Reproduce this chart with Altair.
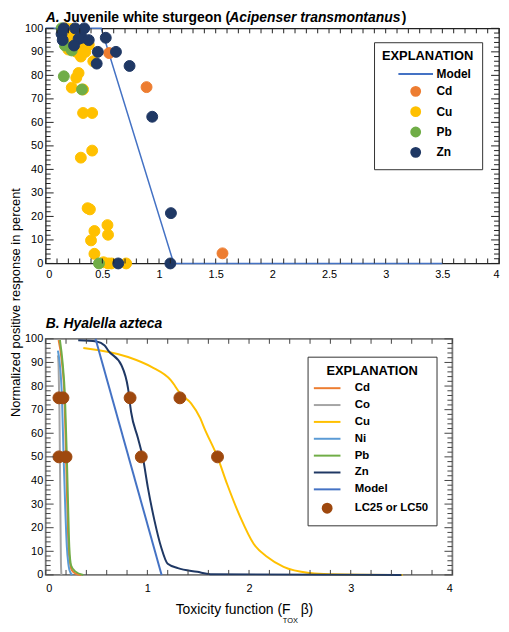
import altair as alt
import pandas as pd
import numpy as np

FONT = "Liberation Sans, Arial, sans-serif"

# ---------------- Panel A data (juvenile white sturgeon) ----------------
cd_x = [0.37, 0.56, 0.89, 1.56]
cd_y = [93, 89.5, 75, 4.3]
cu_x = [0.18, 0.23, 0.22, 0.30, 0.20, 0.27, 0.35, 0.33, 0.25, 0.38, 0.31, 0.28,
        0.42, 0.29, 0.27, 0.23, 0.33, 0.33, 0.41, 0.31, 0.41, 0.37, 0.39, 0.545,
        0.43, 0.55, 0.40, 0.43, 0.51, 0.55, 0.58, 0.71]
cu_y = [100, 99.7, 95.5, 97.6, 91, 90, 90, 92, 94, 93, 88, 96,
        86, 81, 79, 74.8, 74, 64, 64, 45, 48, 23.5, 23, 16.3,
        13.8, 12.2, 9.8, 4.1, 0.5, 0, 0, 0]
pb_x = [0.14, 0.17, 0.23, 0.16, 0.32, 0.47]
pb_y = [100, 92.7, 90.6, 79.6, 74, 0]
zn_x = [0.16, 0.26, 0.34, 0.14, 0.15, 0.32, 0.29, 0.38, 0.25, 0.53, 0.46, 0.62,
        0.45, 0.74, 0.94, 1.105, 0.64, 1.10]
zn_y = [100, 100, 100, 97.6, 95, 96, 95.5, 95, 92.7, 96, 90, 90,
        85, 84, 62.4, 21.4, 0, 0]
modelA_x = [0, 0.49, 1.13, 3.5]
modelA_y = [100, 100, 0, 0]

# ---------------- Panel B data (Hyalella azteca) ----------------
b_cd_x = [0.127, 0.16, 0.185, 0.2, 0.212, 0.224, 0.24, 0.257, 0.3, 0.35]
b_cd_y = [99.5, 90, 75, 50, 30, 12, 5, 2, 0.5, 0]
b_co_x = [0.12, 0.127, 0.135, 0.14, 0.145, 0.15, 0.155]
b_co_y = [93, 88, 70, 50, 25, 5, 0]
b_cu_x = [0.37, 0.81, 1.04, 1.23, 1.33, 1.43, 1.52, 1.56, 1.69, 1.785, 1.915,
          2.045, 2.18, 2.34, 2.6, 2.79, 3.51]
b_cu_y = [96.1, 92.3, 88.1, 82.5, 76.5, 72.7, 66.4, 62.2, 49.9, 38.4, 24.4,
          13.2, 7.6, 3.4, 0.8, 0.3, 0]
b_ni_x = [0.12, 0.137, 0.16, 0.176, 0.195, 0.208, 0.222, 0.234, 0.26]
b_ni_y = [95, 90, 75, 50, 25, 12, 5, 2, 0]
b_pb_x = [0.14, 0.166, 0.19, 0.208, 0.22, 0.232, 0.25, 0.29, 0.37]
b_pb_y = [99.5, 90, 75, 50, 30, 12, 4, 1.5, 0]
b_zn_x = [0.32, 0.5, 0.58, 0.615, 0.745, 0.81, 0.84, 0.907, 0.956, 1.005, 1.07,
          1.135, 1.2, 1.3, 1.49, 1.62, 3.5]
b_zn_y = [99.4, 98.9, 97.2, 95, 88.8, 79, 69, 58, 49.6, 37, 23,
          11.8, 4.7, 2.9, 1.3, 0.3, 0]
b_model_x = [0.49, 1.14]
b_model_y = [100, 0]
lc_x = [0.13, 0.17, 0.83, 1.32, 0.13, 0.20, 0.94, 1.69]
lc_y = [75, 75, 75, 75, 50, 50, 50, 50]

# ---------------- styling ----------------
C = {"Cd": "#ED7D31", "Co": "#A5A5A5", "Cu": "#FFC000", "Ni": "#5B9BD5",
     "Pb": "#70AD47", "Zn": "#1F3864", "Model": "#4472C4", "LC25 or LC50": "#9E480E"}

WA, HA = 457, 237
WB, HB = 410, 238


def tick_layers(W, H, xstep, ystep, ymajor, xscale, yscale, xaxis, yaxis, color):
    xt = pd.DataFrame({"v": np.round(np.arange(0, 4 + 1e-9, xstep), 3)})
    yt = pd.DataFrame({"v": np.round(np.arange(0, 100 + 1e-9, ystep), 3)})
    major = np.isclose(yt["v"] % ymajor, 0)
    ymaj = yt[major].reset_index(drop=True)
    ymin = yt[~major].reset_index(drop=True)
    X = alt.X("v:Q", scale=xscale, axis=xaxis)
    Y = alt.Y("v:Q", scale=yscale, axis=yaxis)
    base = dict(color=color, strokeWidth=1)
    return [
        alt.Chart(xt).mark_rule(**base).encode(x=X, y=alt.value(H), y2=alt.value(H - 5)),
        alt.Chart(xt).mark_rule(**base).encode(x=X, y=alt.value(0), y2=alt.value(5)),
        alt.Chart(ymaj).mark_rule(**base).encode(y=Y, x=alt.value(0), x2=alt.value(8)),
        alt.Chart(ymin).mark_rule(**base).encode(y=Y, x=alt.value(0), x2=alt.value(5)),
        alt.Chart(ymaj).mark_rule(**base).encode(y=Y, x=alt.value(W), x2=alt.value(W - 8)),
        alt.Chart(ymin).mark_rule(**base).encode(y=Y, x=alt.value(W), x2=alt.value(W - 5)),
    ]


def legend(x, y, symoff, laboff, rowpad, labsize):
    return alt.Legend(title="EXPLANATION", orient="none", legendX=x, legendY=y,
                      padding=8, strokeColor="#333", fillColor="white",
                      titleFont=FONT, titleFontSize=13, titleFontWeight="bold",
                      titleColor="black", titleAnchor="middle", titlePadding=5,
                      labelFont=FONT, labelFontSize=labsize, labelFontWeight="bold",
                      labelColor="black", symbolSize=80, symbolStrokeWidth=2,
                      symbolOffset=symoff, labelOffset=laboff, rowPadding=rowpad,
                      symbolOpacity=1)


def text_seg(txt, x, y, size, weight="bold", style="normal"):
    return alt.Chart(pd.DataFrame({"t": [txt]})).mark_text(
        font=FONT, fontSize=size, fontWeight=weight, fontStyle=style,
        align="left", baseline="alphabetic", color="black"
    ).encode(text="t:N", x=alt.value(x), y=alt.value(y))


# ---------------- Panel A ----------------
xsA = alt.Scale(domain=[0, 4], nice=False)
ysA = alt.Scale(domain=[0, 100], nice=False)
domA = ["Model", "Cd", "Cu", "Pb", "Zn"]
rngA = [C[k] for k in domA]
shpA = ["M-3.9,0L3.9,0", "circle", "circle", "circle", "circle"]

ptsA = pd.concat([
    pd.DataFrame({"series": "Cd", "x": cd_x, "y": cd_y}),
    pd.DataFrame({"series": "Cu", "x": cu_x, "y": cu_y}),
    pd.DataFrame({"series": "Pb", "x": pb_x, "y": pb_y}),
    pd.DataFrame({"series": "Zn", "x": zn_x, "y": zn_y}),
], ignore_index=True)
ptsA["order"] = np.arange(len(ptsA))
modelA = pd.DataFrame({"x": modelA_x, "y": modelA_y})

axA_x = alt.Axis(values=[0, 0.5, 1, 1.5, 2, 2.5, 3, 3.5, 4], labelExpr="'' + datum.value",
                 ticks=False, domain=False, grid=False, labelFont=FONT, labelFontSize=11,
                 labelColor="black", labelPadding=5, title=None)
axA_y = alt.Axis(values=list(range(0, 101, 10)), ticks=False, domain=False, grid=False,
                 labelFont=FONT, labelFontSize=11, labelColor="black", labelPadding=3,
                 title="Normalized positive response in percent", titleFont=FONT,
                 titleFontSize=13, titleFontWeight="normal", titleColor="black",
                 titleY=276, titlePadding=2)
XA = alt.X("x:Q", scale=xsA, axis=axA_x)
YA = alt.Y("y:Q", scale=ysA, axis=axA_y)

legA = legend(331, 14, 25, 15, 2.5, 12)
lineA = alt.Chart(modelA).mark_line(color=C["Model"], strokeWidth=1.5).encode(x=XA, y=YA)
pointA = alt.Chart(ptsA).mark_point(filled=True, size=121, strokeWidth=1, opacity=1).encode(
    x=XA, y=YA,
    fill=alt.Fill("series:N", scale=alt.Scale(domain=domA, range=rngA), legend=legA),
    stroke=alt.Stroke("series:N", scale=alt.Scale(domain=domA, range=rngA), legend=legA),
    shape=alt.Shape("series:N", scale=alt.Scale(domain=domA, range=shpA), legend=legA),
    order=alt.Order("order:Q"),
)
titleA = [
    text_seg("A.", 0, -6, 14, style="italic"),
    text_seg("Juvenile white sturgeon (", 18, -6, 14),
    text_seg("Acipenser transmontanus", 185, -6, 14, style="italic"),
    text_seg(")", 359, -6, 14),
]
panelA = alt.layer(lineA, pointA,
                   *tick_layers(WA, HA, 0.1, 2, 10, xsA, ysA, axA_x, axA_y, "#222"),
                   *titleA).properties(width=WA, height=HA)

# ---------------- Panel B ----------------
xsB = alt.Scale(domain=[0, 4], nice=False)
ysB = alt.Scale(domain=[0, 100], nice=False)
domB = ["Cd", "Co", "Cu", "Ni", "Pb", "Zn", "Model", "LC25 or LC50"]
rngB = [C[k] for k in domB]
shpB = ["M-3,0L3,0"] * 7 + ["circle"]

axB_x = alt.Axis(values=[0, 1, 2, 3, 4], ticks=False, domain=False, grid=False,
                 labelFont=FONT, labelFontSize=11, labelColor="black", labelPadding=8, title=None)
axB_y = alt.Axis(values=list(range(0, 101, 10)), ticks=False, domain=False, grid=False,
                 labelFont=FONT, labelFontSize=11, labelColor="black", labelPadding=3, title=None)
XB = alt.X("x:Q", scale=xsB, axis=axB_x)
YB = alt.Y("y:Q", scale=ysB, axis=axB_y)

curve_data = [("Cd", b_cd_x, b_cd_y), ("Co", b_co_x, b_co_y), ("Cu", b_cu_x, b_cu_y),
              ("Ni", b_ni_x, b_ni_y), ("Pb", b_pb_x, b_pb_y), ("Zn", b_zn_x, b_zn_y),
              ("Model", b_model_x, b_model_y)]
linesB = [
    alt.Chart(pd.DataFrame({"x": xs, "y": ys})).mark_line(
        color=C[name], strokeWidth=2, interpolate="monotone").encode(x=XB, y=YB)
    for name, xs, ys in curve_data
]
lcB = pd.DataFrame({"series": "LC25 or LC50", "x": lc_x, "y": lc_y})
legB = legend(264, 18, 6, 22, 4, 11.5)
pointB = alt.Chart(lcB).mark_point(filled=True, size=144, strokeWidth=1, opacity=1).encode(
    x=XB, y=YB,
    fill=alt.Fill("series:N", scale=alt.Scale(domain=domB, range=rngB), legend=legB),
    stroke=alt.Stroke("series:N", scale=alt.Scale(domain=domB, range=rngB), legend=legB),
    shape=alt.Shape("series:N", scale=alt.Scale(domain=domB, range=shpB), legend=legB),
)
titleB = [text_seg("B. Hyalella azteca", 0, -11, 14, style="italic")]
xtitleB = [
    text_seg("Toxicity function (F", 131, 277, 14, weight="normal"),
    text_seg("TOX", 239, 286, 7.5, weight="normal"),
    text_seg("\u03b2)", 257, 277, 14, weight="normal"),
]
panelB = alt.layer(*linesB, pointB,
                   *tick_layers(WB, HB, 0.2, 2, 10, xsB, ysB, axB_x, axB_y, "#444"),
                   *titleB, *xtitleB).properties(
    width=WB, height=HB, view=alt.ViewBackground(stroke="#7a7a7a", strokeWidth=1.8))

chart = alt.vconcat(panelA, panelB, spacing=76, bounds="flush").resolve_scale(
    fill="independent", stroke="independent", shape="independent",
    x="independent", y="independent"
).resolve_legend(
    fill="independent", stroke="independent", shape="independent"
).configure_view(stroke="#222", strokeWidth=1.3).properties(padding=0)

chart.save("out.html", embed_options={"renderer": "svg", "actions": False})
